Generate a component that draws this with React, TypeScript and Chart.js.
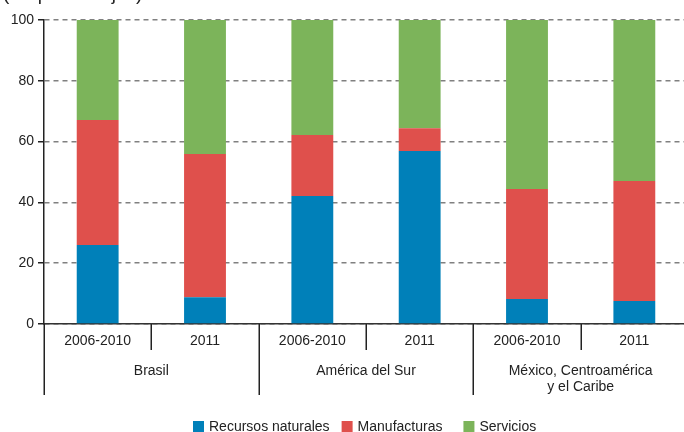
import React, { useEffect, useRef } from "react";
import { Chart, registerables } from "chart.js";

Chart.register(...registerables);

const subtitle = "(En porcentajes)";
const categories = ["2006-2010", "2011", "2006-2010", "2011", "2006-2010", "2011"];
const groups: string[][] = [["Brasil"], ["América del Sur"], ["México, Centroamérica", "y el Caribe"]];
const seriesNames = ["Recursos naturales", "Manufacturas", "Servicios"];
const recursosNaturales = [26, 8.8, 42.1, 56.9, 8.2, 7.6];
const manufacturas = [41.1, 47.1, 20.1, 7.5, 36.2, 39.4];
const servicios = [32.9, 44.1, 37.8, 35.6, 55.6, 53.0];
const yTickValues = [0, 20, 40, 60, 80, 100];

const colors = ["#0080b9", "#df504c", "#7cb45a"];
const FONT = "'Liberation Sans', Arial, sans-serif";
const legendGaps = [12, 21, 0];

const decorPlugin = {
  id: "decor",
  afterDraw(chart: any) {
    const ctx = chart.ctx as CanvasRenderingContext2D;
    const xs = chart.scales.x;
    const area = chart.chartArea;
    const n = categories.length;
    const px = (i: number) => xs.getPixelForValue(i);
    const step = px(1) - px(0);
    const bottom = area.bottom;
    ctx.save();
    // subtitle (cut at top)
    ctx.font = `19px ${FONT}`;
    ctx.fillStyle = "#222";
    ctx.textAlign = "left";
    ctx.textBaseline = "alphabetic";
    ctx.fillText(subtitle, 3, -0.5);

    // dividers
    ctx.strokeStyle = "#222";
    ctx.lineWidth = 1.5;
    for (let i = 0; i < n; i++) {
      const x = Math.round(px(i) - step / 2) + 0.25;
      const long = i % 2 === 0;
      ctx.beginPath();
      ctx.moveTo(x, bottom);
      ctx.lineTo(x, long ? bottom + 71 : bottom + 26);
      ctx.stroke();
    }
    // category labels
    ctx.font = `14px ${FONT}`;
    ctx.fillStyle = "#222";
    ctx.textAlign = "center";
    ctx.textBaseline = "middle";
    categories.forEach((c, i) => ctx.fillText(c, px(i), bottom + 17));
    // group labels
    groups.forEach((lines, g) => {
      const cx = (px(2 * g) + px(2 * g + 1)) / 2;
      lines.forEach((l, k) => ctx.fillText(l, cx, bottom + 47 + k * 16));
    });
    // legend
    const datasets = chart.data.datasets;
    let x = 193;
    const ly = 427;
    ctx.textAlign = "left";
    datasets.forEach((ds: any, i: number) => {
      ctx.fillStyle = ds.backgroundColor;
      ctx.fillRect(x, ly - 6, 11, 11);
      ctx.fillStyle = "#222";
      ctx.fillText(ds.label, x + 16, ly);
      x += 16 + ctx.measureText(ds.label).width + legendGaps[i];
    });
    ctx.restore();
  },
};

export default function App() {
  const ref = useRef<HTMLCanvasElement>(null);
  useEffect(() => {
    document.body.style.margin = "0";
    document.body.style.overflow = "hidden";
    const chart = new Chart(ref.current!, {
      type: "bar",
      data: {
        labels: categories,
        datasets: [recursosNaturales, manufacturas, servicios].map((d, i) => ({
          label: seriesNames[i],
          data: d,
          backgroundColor: colors[i],
          borderWidth: 0,
          categoryPercentage: 1,
          barPercentage: 0.39,
        })),
      },
      options: {
        animation: false,
        responsive: false,
        maintainAspectRatio: false,
        layout: { padding: { top: 20, left: 0, right: 0, bottom: 0 } },
        plugins: { legend: { display: false }, tooltip: { enabled: false } },
        scales: {
          x: {
            stacked: true,
            ticks: { display: false },
            grid: { display: false, drawTicks: false },
            border: { display: true, color: "#333", width: 1.5 },
            afterFit: (s: any) => {
              s.height = 108;
            },
          },
          y: {
            stacked: true,
            min: 0,
            max: 100,
            afterBuildTicks: (s: any) => {
              s.ticks = yTickValues.map((v) => ({ value: v }));
            },
            ticks: {
              font: { family: FONT, size: 14 },
              color: "#222",
              padding: 4,
            },
            grid: {
              color: "#808080",
              lineWidth: 1.5,
              tickLength: 6,
              tickColor: "#222",
              tickWidth: 1.5,
            },
            border: { display: true, color: "#222", width: 1.5, dash: [5, 4] },
            afterFit: (s: any) => {
              s.width = 44;
            },
          },
        },
      },
      plugins: [decorPlugin],
    });
    return () => chart.destroy();
  }, []);
  return (
    <div style={{ width: 688, height: 432 }}>
      <canvas ref={ref} width={688} height={432} style={{ display: "block" }} />
    </div>
  );
}
